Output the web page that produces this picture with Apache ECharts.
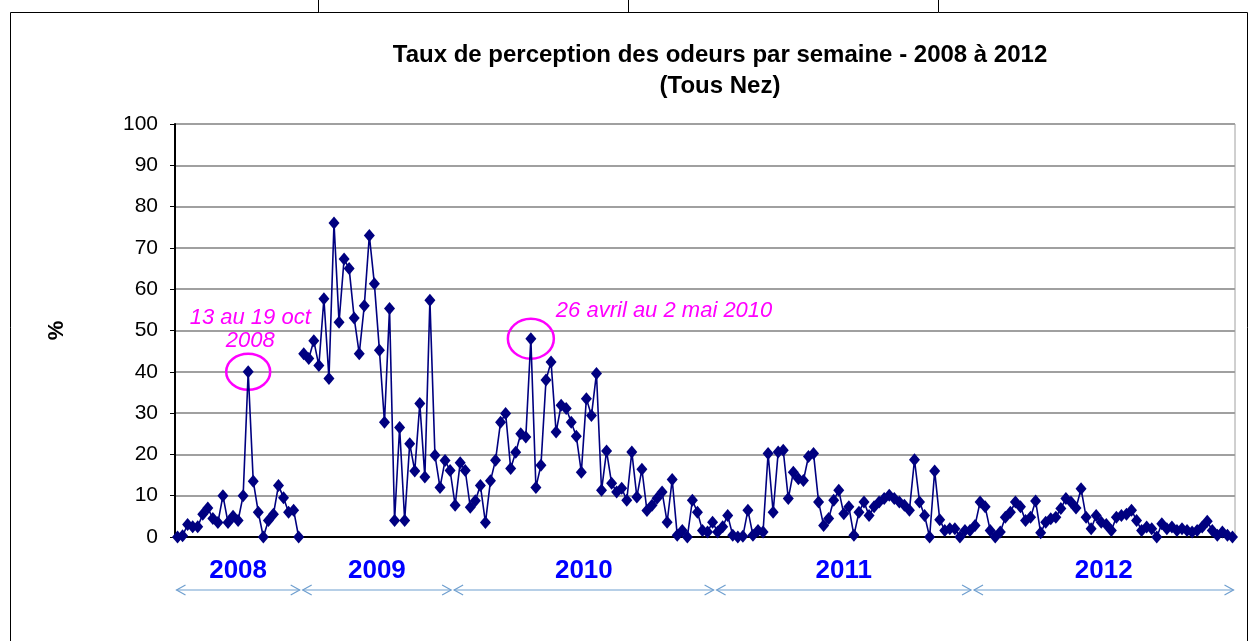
<!DOCTYPE html>
<html>
<head>
<meta charset="utf-8">
<script src="https://cdn.jsdelivr.net/npm/echarts@6/dist/echarts.min.js"></script>
<style>
html,body{margin:0;padding:0;background:#fff;}
#c{width:1254px;height:641px;}
</style>
</head>
<body>
<div id="c"></div>
<script>
// ---- DATA ----
const titleText = "Taux de perception des odeurs par semaine - 2008 à 2012\n(Tous Nez)";
const yTicks = [0, 10, 20, 30, 40, 50, 60, 70, 80, 90, 100];
const values2008 = [0, 0.3, 3, 2.5, 2.5, 5.5, 7, 4.5, 3.5, 10, 3.5, 5, 4, 10, 40, 13.5, 6, 0, 4, 5.5, 12.5, 9.5, 6, 6.5, 0];
const valuesLater = [44.4, 43.2, 47.5, 41.5, 57.7, 38.4, 76, 52, 67.3, 65, 53, 44.4, 56, 73, 61.3, 45.2, 27.8, 55.3, 4, 26.5,
  4, 22.6, 16, 32.3, 14.5, 57.3, 19.8, 12, 18.5, 16.1, 7.7, 18, 16.1, 7.2, 8.8, 12.5, 3.5, 13.6, 18.6, 27.8,
  29.9, 16.6, 20.5, 25, 24.2, 48, 12, 17.4, 38, 42.4, 25.4, 31.9, 31.1, 27.8, 24.4, 15.7, 33.5, 29.4, 39.6, 11.3,
  20.8, 13, 10.9, 11.8, 8.9, 20.6, 9.7, 16.4, 6.4, 7.7, 9.4, 10.9, 3.6, 13.9, 0.4, 1.6, 0, 8.9, 6, 1.6,
  1.2, 3.6, 1.2, 2.5, 5.2, 0.4, 0, 0.2, 6.5, 0.4, 1.6, 1.2, 20.2, 6, 20.6, 21, 9.3, 15.7, 14.1, 13.7,
  19.5, 20.2, 8.5, 2.8, 4.5, 8.9, 11.3, 5.6, 7.3, 0.4, 6, 8.5, 5.2, 7.3, 8.5, 9.3, 10.1, 9.3, 8.5, 7.7,
  6.5, 18.7, 8.5, 5.2, 0, 16, 4.2, 1.6, 2, 2, 0, 1.6, 1.6, 2.8, 8.5, 7.3, 1.6, 0, 1.2, 4.8,
  6, 8.5, 7.3, 4, 4.8, 8.7, 1, 3.6, 4.4, 4.8, 6.9, 9.3, 8.5, 7, 11.7, 4.8, 2, 5.2, 3.6, 3,
  1.6, 4.8, 5.2, 5.5, 6.5, 4, 1.6, 2.4, 2, 0, 3.2, 2, 2.4, 1.6, 2, 1.6, 1.2, 1.6, 2.4, 3.8,
  1.6, 0.4, 1.2, 0.4, 0];
const allValues = values2008.concat(valuesLater);
const weeks = allValues.map((_, i) => 'S' + (i + 1));
const years = ['2008', '2009', '2010', '2011', '2012'];
const yearStart = [0, 25, 55, 107, 158];
const yearEnd = [24, 54, 106, 157, 209];
const notes = ['13 au 19 oct\n2008', '26 avril au 2 mai 2010'];
const noteIndex = [14, 70];

// ---- CHART ----
const NAVY = '#000080';
const MAG = '#ff00ff';
const chart = echarts.init(document.getElementById('c'), null, {renderer: 'canvas'});
const series2008 = allValues.map((v, i) => i < values2008.length ? v : null);
const seriesLater = allValues.map((v, i) => i >= values2008.length ? v : null);
const lineSeries = (data) => ({
  type: 'line', data: data, connectNulls: false,
  symbol: 'diamond', symbolSize: [11, 13], showAllSymbol: true,
  lineStyle: {color: NAVY, width: 1.6},
  itemStyle: {color: NAVY},
  emphasis: {disabled: true},
  animation: false, clip: false
});
chart.setOption({
  backgroundColor: '#fff',
  animation: false,
  title: {
    text: titleText, left: 715, top: 35, textAlign: 'center',
    textStyle: {fontFamily: 'Liberation Sans', fontWeight: 'bold', fontSize: 24, lineHeight: 31, color: '#000'}
  },
  grid: {left: 175, right: 19, top: 124, bottom: 104, show: true, borderColor: '#a0a0a0', borderWidth: 1, backgroundColor: 'transparent'},
  xAxis: {
    type: 'category', data: weeks, boundaryGap: true,
    axisLine: {lineStyle: {color: '#000', width: 2}},
    axisTick: {show: false}, axisLabel: {show: false}, splitLine: {show: false}
  },
  yAxis: {
    type: 'value', min: yTicks[0], max: yTicks[yTicks.length - 1], interval: 10,
    name: '%', nameLocation: 'middle', nameGap: 107, nameRotate: 90,
    nameTextStyle: {fontFamily: 'Liberation Sans', fontWeight: 'bold', fontSize: 22, color: '#000'},
    axisLine: {show: true, lineStyle: {color: '#000', width: 2}},
    axisTick: {show: true, length: 5, inside: false, lineStyle: {color: '#000', width: 1}},
    axisLabel: {fontFamily: 'Liberation Sans', fontSize: 21, color: '#000', margin: 17},
    splitLine: {show: true, lineStyle: {color: '#a0a0a0', width: 2}}
  },
  series: [lineSeries(series2008), lineSeries(seriesLater)]
});

function drawOverlay() {
  const px = (i, v) => chart.convertToPixel({xAxisIndex: 0, yAxisIndex: 0}, [i, v]);
  const p0 = px(0, 0), p1 = px(1, 0);
  const band = p1[0] - p0[0];
  const g = [];
  // outer frame
  g.push({type: 'rect', shape: {x: 10.5, y: 12.5, width: 1237, height: 640}, style: {fill: null, stroke: '#000', lineWidth: 1}, silent: true});
  [318, 628, 938].forEach(x => g.push({type: 'line', shape: {x1: x + 0.5, y1: 0, x2: x + 0.5, y2: 12}, style: {stroke: '#000', lineWidth: 1}}));
  // annotations
  const a0 = px(noteIndex[0], allValues[noteIndex[0]]);
  const a1 = px(noteIndex[1], allValues[noteIndex[1]]);
  g.push({type: 'ellipse', shape: {cx: a0[0], cy: a0[1], rx: 22, ry: 18}, style: {fill: null, stroke: MAG, lineWidth: 2.5}});
  g.push({type: 'ellipse', shape: {cx: a1[0], cy: a1[1], rx: 23, ry: 20}, style: {fill: null, stroke: MAG, lineWidth: 2.5}});
  g.push({type: 'text', x: a0[0] + 2, y: a0[1] - 65, style: {text: notes[0], fill: MAG, font: 'italic 22px "Liberation Sans"', align: 'center', verticalAlign: 'top', lineHeight: 23}});
  g.push({type: 'text', x: a1[0] + 25, y: a1[1] - 39, style: {text: notes[1], fill: MAG, font: 'italic 22px "Liberation Sans"', align: 'left', verticalAlign: 'top'}});
  // year arrows
  const ARC = '#6f9fcf';
  const yA = 590;
  years.forEach((yr, k) => {
    const xs = px(yearStart[k], 0)[0] - band / 2 + 1.5;
    const xe = px(yearEnd[k], 0)[0] + band / 2 - 1.5;
    g.push({type: 'line', shape: {x1: xs, y1: yA, x2: xe, y2: yA}, style: {stroke: ARC, lineWidth: 1.2}});
    g.push({type: 'polyline', shape: {points: [[xs + 9, yA - 5], [xs, yA], [xs + 9, yA + 5]]}, style: {stroke: ARC, lineWidth: 1.2, fill: null}});
    g.push({type: 'polyline', shape: {points: [[xe - 9, yA - 5], [xe, yA], [xe - 9, yA + 5]]}, style: {stroke: ARC, lineWidth: 1.2, fill: null}});
    g.push({type: 'text', x: (xs + xe) / 2, y: 571, style: {text: yr, fill: '#0000ff', font: 'bold 26px "Liberation Sans"', align: 'center', verticalAlign: 'middle'}});
  });
  chart.setOption({graphic: {elements: g}});
}
drawOverlay();
</script>
</body>
</html>
